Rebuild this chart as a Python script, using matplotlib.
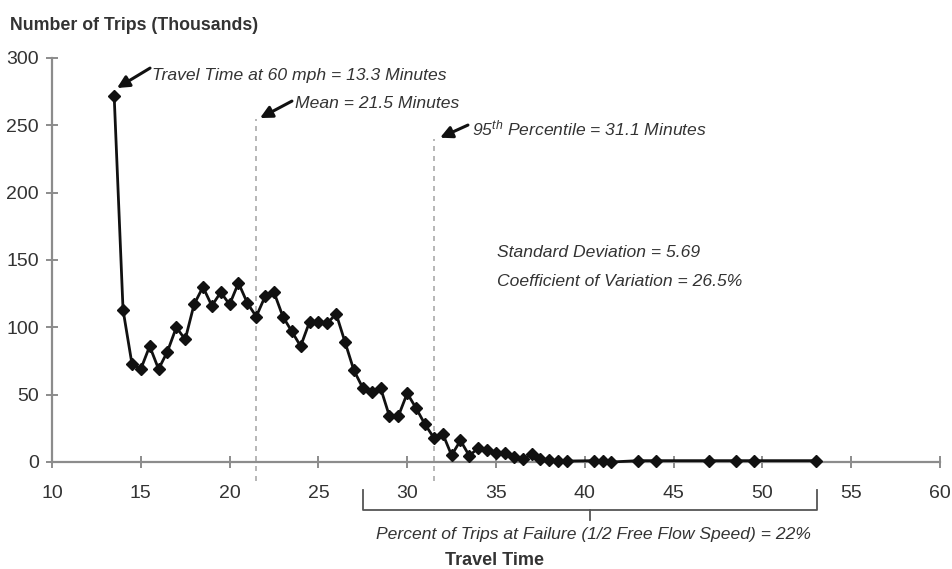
import matplotlib
matplotlib.use("Agg")
import matplotlib.pyplot as plt
from matplotlib import font_manager

# ---- data ----
travel_time = [13.5, 14.0, 14.5, 15.0, 15.5, 16.0, 16.5, 17.0, 17.5, 18.0,
               18.5, 19.0, 19.5, 20.0, 20.5, 21.0, 21.5, 22.0, 22.5, 23.0,
               23.5, 24.0, 24.5, 25.0, 25.5, 26.0, 26.5, 27.0, 27.5, 28.0,
               28.5, 29.0, 29.5, 30.0, 30.5, 31.0, 31.5, 32.0, 32.5, 33.0,
               33.5, 34.0, 34.5, 35.0, 35.5, 36.0, 36.5, 37.0, 37.5, 38.0,
               38.5, 39.0, 40.5, 41.0, 41.5, 43.0, 44.0, 47.0, 48.5, 49.5, 53.0]
trips = [272, 113, 73, 69, 86, 69, 82, 100, 91, 117,
         130, 116, 126, 117, 133, 118, 108, 123, 126, 108,
         97, 86, 104, 104, 103, 110, 89, 68, 55, 52,
         55, 34, 34, 51, 40, 28, 18, 21, 5, 16,
         4.5, 10.6, 8.7, 7, 7, 3.7, 2, 5.7, 2, 1.3,
         0.7, 0.7, 1, 1, 0, 1, 1, 1, 1, 1, 1]
x_ticks = [10, 15, 20, 25, 30, 35, 40, 45, 50, 55, 60]
y_ticks = [0, 50, 100, 150, 200, 250, 300]
mean_time = 21.5
pct95_line = 31.5
failure_range = [27.5, 53.05]

names = {f.name for f in font_manager.fontManager.ttflist}
FONT = "Liberation Sans Narrow" if "Liberation Sans Narrow" in names else "Liberation Sans"
plt.rcParams["font.family"] = [FONT, "DejaVu Sans"]
plt.rcParams["mathtext.default"] = "regular"

TXT = "#333333"
AX = "#8c8c8c"
FS = 12.6

fig = plt.figure(figsize=(9.53, 5.69), dpi=100)
ax = fig.add_axes([52/953, 1-462/569, 888/953, 404/569])
ax.set_xlim(10, 60)
ax.set_ylim(0, 300)

for s in ["top", "right"]:
    ax.spines[s].set_visible(False)
for s in ["left", "bottom"]:
    ax.spines[s].set_color(AX)
    ax.spines[s].set_linewidth(1.6)
ax.set_xticks(x_ticks)
ax.set_yticks(y_ticks)
ax.tick_params(axis="both", direction="inout", length=9, width=1.4, color=AX,
               labelsize=14, labelcolor=TXT)
ax.tick_params(axis="x", pad=12)
ax.tick_params(axis="y", pad=5)

# dashed reference lines
for xv, ytop in [(mean_time, 255), (pct95_line, 240)]:
    ax.plot([xv, xv], [-14, ytop], ls=(0, (3, 3)), color="#aaaaaa", lw=1.2, clip_on=False, zorder=1)

ax.plot(travel_time, trips, color="#111111", lw=2.0, marker="D", ms=6.5,
        mfc="#111111", mec="#111111", zorder=3, clip_on=False)

# annotations
ap = dict(arrowstyle="-|>", color="#111111", lw=2.2, mutation_scale=18, shrinkA=0, shrinkB=0)
ax.annotate("", xy=(13.66, 277.7), xytext=(15.52, 292.5), arrowprops=ap)
ax.annotate("", xy=(21.71, 255.4), xytext=(23.51, 268.0), arrowprops=ap)
ax.annotate("", xy=(31.85, 240.8), xytext=(33.42, 250.2), arrowprops=ap)

tkw = dict(fontsize=FS, style="italic", color=TXT, va="center", ha="left")
ax.text(15.63, 287.3, "Travel Time at 60 mph = 13.3 Minutes", **tkw)
ax.text(23.68, 266.5, "Mean = 21.5 Minutes", **tkw)
ax.text(33.65, 248.0, r"$\mathregular{95^{th}}$ Percentile = 31.1 Minutes", **tkw)
ax.text(35.06, 155.2, "Standard Deviation = 5.69", **tkw)
ax.text(35.06, 134.4, "Coefficient of Variation = 26.5%", **tkw)

# bracket below axis
bx0, bx1 = failure_range
bmid = (bx0 + bx1) / 2
ax.plot([bx0, bx0, bx1, bx1], [-20.8, -35.6, -35.6, -20.8], color="#555555", lw=1.3, clip_on=False)
ax.plot([bmid, bmid], [-35.6, -43], color="#555555", lw=1.3, clip_on=False)
ax.text(40.5, -54.2, "Percent of Trips at Failure (1/2 Free Flow Speed) = 22%",
        fontsize=FS, style="italic", color=TXT, ha="center", va="center", clip_on=False)
ax.text(34.94, -73.0, "Travel Time", fontsize=13, weight="bold", color=TXT,
        ha="center", va="center", clip_on=False)

fig.text(10/953, 1-25/569, "Number of Trips (Thousands)", fontsize=12.8, weight="bold",
         color=TXT, ha="left", va="center")

fig.savefig("out.png", dpi=100, facecolor="white")
